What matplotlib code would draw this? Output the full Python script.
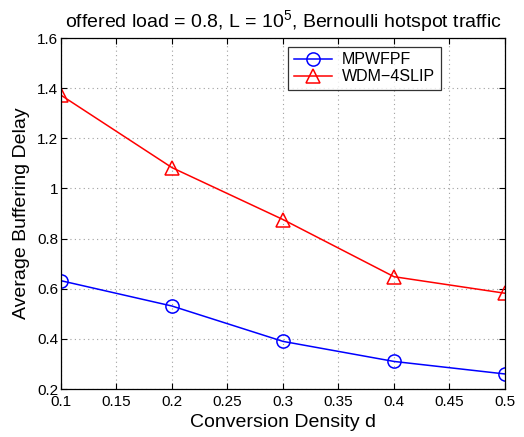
import matplotlib
matplotlib.use("Agg")
import matplotlib.pyplot as plt

plt.rcParams['font.family'] = ['Liberation Sans', 'DejaVu Sans']

density = [0.1, 0.2, 0.3, 0.4, 0.5]
mpwfpf = [0.632, 0.531, 0.390, 0.310, 0.260]
wdm_4slip = [1.372, 1.083, 0.876, 0.648, 0.582]

xticks = [0.1, 0.15, 0.2, 0.25, 0.3, 0.35, 0.4, 0.45, 0.5]
xticklabels = ['0.1', '0.15', '0.2', '0.25', '0.3', '0.35', '0.4', '0.45', '0.5']
yticks = [0.2, 0.4, 0.6, 0.8, 1.0, 1.2, 1.4, 1.6]
yticklabels = ['0.2', '0.4', '0.6', '0.8', '1', '1.2', '1.4', '1.6']

fig = plt.figure(figsize=(5.24, 4.37), dpi=100)
ax = fig.add_axes([0.1164, 0.1098, 0.8473, 0.8032])

ax.plot(density, mpwfpf, color='#0000ff', marker='o', markersize=9.5,
        markerfacecolor='none', markeredgecolor='#0000ff', linewidth=1.1,
        markeredgewidth=1.1, label='MPWFPF')
ax.plot(density, wdm_4slip, color='#ff0000', marker='^', markersize=10.5,
        markerfacecolor='none', markeredgecolor='#ff0000', linewidth=1.1,
        markeredgewidth=1.1, label='WDM\u22124SLIP')

ax.set_xlim(0.1, 0.5)
ax.set_ylim(0.2, 1.6)
ax.set_xticks(xticks)
ax.set_xticklabels(xticklabels)
ax.set_yticks(yticks)
ax.set_yticklabels(yticklabels)

ax.grid(True, linestyle=(0, (1, 3)), color='#a0a0a0', linewidth=0.8)
ax.tick_params(direction='in', top=True, right=True, labelsize=11,
               length=4)
ax.tick_params(axis='x', pad=4)
ax.tick_params(axis='y', pad=2)
for s in ax.spines.values():
    s.set_linewidth(0.9)

ax.set_xlabel('Conversion Density d', fontsize=14, labelpad=4)
ax.set_ylabel('Average Buffering Delay', fontsize=14, labelpad=5)
ax.set_title('offered load = 0.8, L = $\\mathregular{10^5}$, Bernoulli hotspot traffic',
             fontsize=14, pad=8)

leg = ax.legend(loc='upper left', bbox_to_anchor=(0.512, 0.975), fontsize=11.5,
                frameon=True, fancybox=False, edgecolor='black',
                borderpad=0.35, labelspacing=0.12, handlelength=2.4,
                handletextpad=0.6, borderaxespad=0)
leg.get_frame().set_linewidth(0.9)

fig.savefig('out.png', dpi=100)
